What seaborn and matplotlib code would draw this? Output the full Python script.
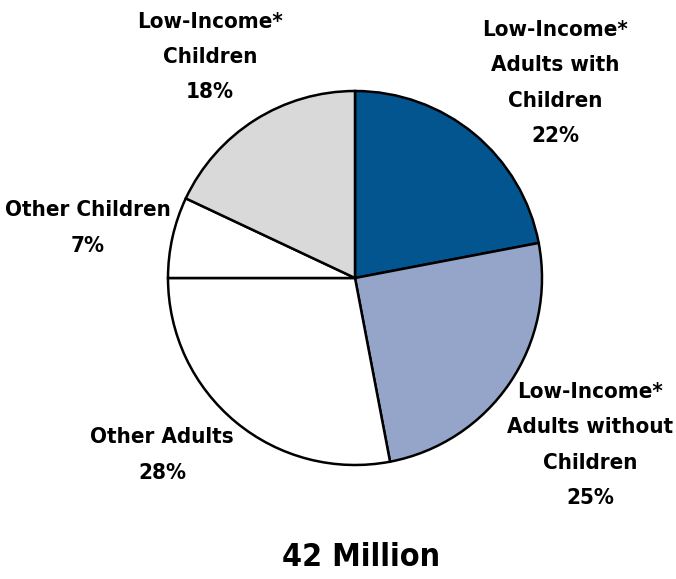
import matplotlib
matplotlib.use("Agg")
import matplotlib.pyplot as plt
import seaborn as sns

# Data
groups = ["Low-Income*\nAdults with\nChildren", "Low-Income*\nAdults without\nChildren",
          "Other Adults", "Other Children", "Low-Income*\nChildren"]
shares = [22, 25, 28, 7, 18]
colors = ["#02558F", "#94A5C9", "#FFFFFF", "#FFFFFF", "#D9D9D9"]
total_label = "42 Million"

sns.set_style("white")
plt.rcParams['font.family'] = ['DejaVu Sans']
plt.rcParams['font.stretch'] = 'condensed'

W, H = 676, 579
fig = plt.figure(figsize=(W / 100, H / 100), dpi=100)

# pie center (355, 278) px, radius 187 px
cx, cy, r = 355, 278, 187
ax = fig.add_axes([(cx - r) / W, (H - cy - r) / H, 2 * r / W, 2 * r / H])
ax.pie(shares, colors=colors, startangle=90, counterclock=False, radius=1,
       wedgeprops=dict(edgecolor="black", linewidth=1.8))
ax.set_xlim(-1, 1)
ax.set_ylim(-1, 1)
ax.set_aspect("equal")
ax.axis("off")

# label positions in pixels (center x, center y)
label_pos = [(555, 83), (590, 445), (162, 455), (88, 228), (210, 57)]
for name, val, (px, py) in zip(groups, shares, label_pos):
    fig.text(px / W, 1 - py / H, f"{name}\n{val}%", ha="center", va="center",
             fontsize=16, fontweight="bold", linespacing=1.95, color="black",
             fontstretch="condensed")

fig.text(361 / W, 1 - 558 / H, total_label, ha="center", va="center",
         fontsize=23, fontweight="bold", color="black", fontstretch="condensed")

fig.savefig("out.png", dpi=100, facecolor="white")
